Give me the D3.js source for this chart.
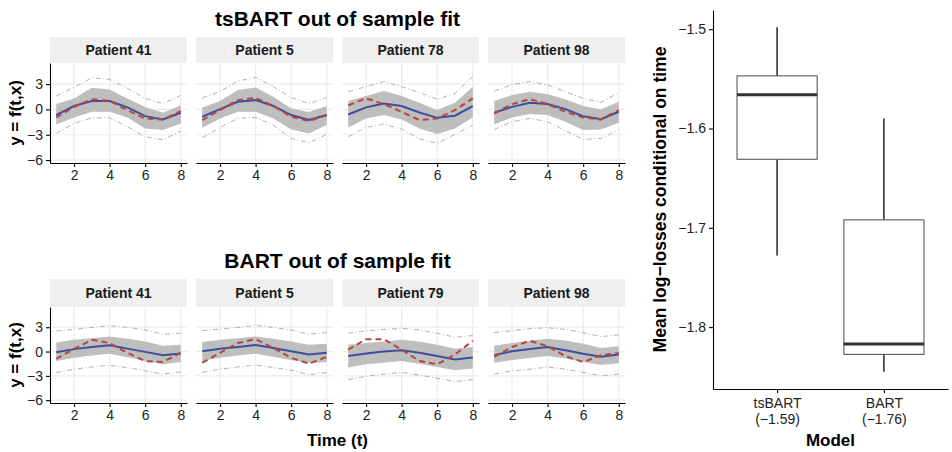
<!DOCTYPE html>
<html>
<head>
<meta charset="utf-8">
<script src="https://cdn.jsdelivr.net/npm/d3@7"></script>
<style>
body { margin: 0; background: #fff; }
svg { display: block; font-family: "Liberation Sans", Arial, Helvetica, sans-serif; }
</style>
</head>
<body>
<div id="chart"></div>
<script>
// Data
var times = [1, 2, 3, 4, 5, 6, 7, 8];
var xTicks = [2, 4, 6, 8];
var yTicks = [-6, -3, 0, 3];
var yLimits = [-6.35, 5.5];

// tsBART out of sample fit
var tsPatients = ["Patient 41", "Patient 5", "Patient 78", "Patient 98"];
var tsFit = [
  [-0.67, 0.4, 1.0, 1.0, 0.24, -0.8, -1.2, -0.4],
  [-0.87, 0.04, 0.9, 1.1, 0.4, -0.67, -1.26, -0.67],
  [-0.6, 0.24, 0.7, 0.4, -0.36, -1.0, -0.75, 0.4],
  [-0.4, 0.3, 0.8, 0.63, 0.04, -0.8, -1.15, -0.28]
];
var tsTruth = [
  [-0.95, 0.3, 1.2, 1.0, -0.1, -1.07, -1.2, -0.2],
  [-1.26, -0.08, 1.1, 1.38, 0.4, -0.87, -1.38, -0.67],
  [0.5, 1.3, 0.63, -0.28, -1.26, -1.07, -0.08, 1.3],
  [-0.47, 0.63, 1.22, 0.63, -0.28, -0.95, -1.2, -0.08]
];
var tsBandLo = [
  [-1.78, -0.95, -0.28, -0.28, -0.95, -2.25, -2.45, -1.66],
  [-2.17, -1.07, -0.28, -0.28, -1.07, -2.37, -2.85, -1.86],
  [-2.13, -1.07, -0.67, -1.2, -2.25, -2.9, -2.25, -0.95],
  [-1.78, -0.95, -0.55, -0.67, -1.46, -2.45, -2.37, -1.58]
];
var tsBandHi = [
  [0.63, 1.3, 2.57, 2.37, 1.3, 0.3, -0.4, 0.5],
  [0.24, 1.0, 2.3, 2.6, 1.5, 0.1, -0.3, 0.4],
  [1.0, 1.6, 2.17, 1.6, 0.8, -0.08, 0.8, 2.7],
  [1.0, 1.7, 2.1, 1.8, 1.2, 0.4, 0.0, 0.9]
];
var tsPredLo = [
  [-2.85, -1.66, -1.0, -1.0, -2.05, -3.24, -3.6, -2.57],
  [-3.36, -2.13, -1.07, -0.95, -1.86, -3.44, -3.95, -2.96],
  [-3.24, -2.13, -1.74, -2.33, -3.5, -4.0, -2.96, -1.86],
  [-2.37, -1.46, -1.07, -1.46, -2.53, -3.56, -3.44, -2.45]
];
var tsPredHi = [
  [1.6, 2.6, 3.75, 3.55, 2.5, 1.3, 0.7, 1.66],
  [1.38, 2.1, 3.36, 3.8, 2.7, 1.38, 0.7, 1.4],
  [2.1, 2.7, 3.3, 2.7, 2.0, 1.2, 1.9, 3.9],
  [2.17, 2.96, 3.3, 2.9, 2.1, 1.3, 0.83, 2.0]
];

// BART out of sample fit
var bartPatients = ["Patient 41", "Patient 5", "Patient 79", "Patient 98"];
var bartFit = [
  [-0.08, 0.3, 0.56, 0.77, 0.36, -0.04, -0.44, -0.24],
  [0.04, 0.36, 0.56, 0.8, 0.44, 0.04, -0.36, -0.16],
  [-0.56, -0.24, 0.0, 0.16, -0.16, -0.56, -0.97, -0.73],
  [-0.44, 0.04, 0.32, 0.56, 0.16, -0.28, -0.65, -0.36]
];
var bartTruth = [
  [-0.89, 0.32, 1.45, 1.05, -0.16, -1.17, -1.29, -0.16],
  [-1.37, -0.16, 1.05, 1.53, 0.44, -0.77, -1.49, -0.65],
  [0.24, 1.53, 1.53, 0.24, -1.17, -1.57, -0.36, 1.33],
  [-0.65, 0.56, 1.33, 0.65, -0.56, -1.29, -0.45, -0.2]
];
var bartBandLo = [
  [-1.17, -0.77, -0.48, -0.28, -0.69, -1.17, -1.57, -1.29],
  [-1.17, -0.77, -0.48, -0.28, -0.65, -1.05, -1.45, -1.29],
  [-1.98, -1.57, -1.37, -1.17, -1.49, -1.9, -2.3, -2.1],
  [-1.37, -1.05, -0.8, -0.56, -0.85, -1.29, -1.65, -1.45]
];
var bartBandHi = [
  [1.13, 1.45, 1.65, 1.85, 1.57, 1.25, 0.73, 0.85],
  [1.17, 1.45, 1.65, 1.85, 1.57, 1.25, 0.85, 0.97],
  [0.85, 1.05, 1.25, 1.45, 1.25, 0.85, 0.36, 0.56],
  [0.73, 1.05, 1.33, 1.57, 1.37, 0.97, 0.44, 0.65]
];
var bartPredLo = [
  [-2.58, -2.18, -1.9, -1.69, -1.98, -2.38, -2.78, -2.5],
  [-2.58, -2.18, -1.9, -1.65, -1.98, -2.3, -2.86, -2.58],
  [-3.47, -3.06, -2.78, -2.58, -2.9, -3.3, -3.7, -3.47],
  [-2.78, -2.38, -2.18, -1.9, -2.18, -2.58, -2.98, -2.78]
];
var bartPredHi = [
  [2.54, 2.74, 2.98, 3.19, 2.98, 2.66, 2.14, 2.26],
  [2.58, 2.78, 2.98, 3.23, 2.98, 2.66, 2.14, 2.34],
  [2.26, 2.54, 2.74, 2.86, 2.66, 2.26, 1.77, 1.98],
  [2.34, 2.58, 2.82, 2.94, 2.74, 2.34, 1.85, 2.06]
];

// Boxplot of mean log-losses
var models = ["tsBART", "BART"];
var modelMeans = ["-1.59", "-1.76"];
var boxMin = [-1.728, -1.845];
var boxQ1 = [-1.631, -1.8275];
var boxMedian = [-1.566, -1.817];
var boxQ3 = [-1.547, -1.692];
var boxMax = [-1.498, -1.590];
var boxTicks = [-1.8, -1.7, -1.6, -1.5];

// Namespace
var fig = fig || {};

fig.minus = function(v) {
  return String(v).replace("-", "\u2212");
};

fig.styleAxis = function(g) {
  g.selectAll(".domain").attr("stroke", "#000").attr("stroke-width", 1.1);
  g.selectAll(".tick line").attr("stroke", "#000").attr("stroke-width", 1.1);
  g.selectAll(".tick text").attr("fill", "#222").style("font-size", "14px")
      .style("font-family", "'Liberation Sans', Arial, sans-serif");
};

// one row of facets (strip + panel for every patient)
fig.drawFacetRow = function(svg, row) {
  var panelW = 137, gap = 9, left = 50;

  svg.append("text").attr("x", left + (4 * panelW + 3 * gap) / 2)
      .attr("y", row.titleY).attr("text-anchor", "middle")
      .style("font-size", "21px").style("font-weight", "bold").text(row.title);

  row.patients.forEach(function(name, i) {
    var g = svg.append("g").attr("transform",
        "translate(" + (left + i * (panelW + gap)) + "," + row.top + ")");

    g.append("rect").attr("width", panelW).attr("height", row.stripH)
        .attr("fill", "#efefef");
    g.append("text").attr("x", panelW / 2).attr("y", row.stripH / 2 + 5)
        .attr("text-anchor", "middle").style("font-size", "14px")
        .style("font-weight", "bold").attr("fill", "#1a1a1a").text(name);

    var p = g.append("g").attr("transform", "translate(0," + row.stripH + ")");
    var x = d3.scaleLinear().domain([0.65, 8.35]).range([0, panelW]);
    var y = d3.scaleLinear().domain(yLimits).range([row.plotH, 0]);

    // grid
    p.selectAll(".vgrid").data(xTicks).enter().append("line")
        .attr("x1", x).attr("x2", x).attr("y1", 0).attr("y2", row.plotH)
        .attr("stroke", "#ebebeb").attr("stroke-width", 1.2);
    p.selectAll(".hgrid").data(yTicks).enter().append("line")
        .attr("x1", 0).attr("x2", panelW).attr("y1", y).attr("y2", y)
        .attr("stroke", "#ebebeb").attr("stroke-width", 1.2);

    var pts = times.map(function(t, k) {
      return {
        t : t,
        fit : row.fit[i][k],
        truth : row.truth[i][k],
        lo : row.bandLo[i][k],
        hi : row.bandHi[i][k],
        plo : row.predLo[i][k],
        phi : row.predHi[i][k]
      };
    });

    var area = d3.area().x(function(d) { return x(d.t); })
        .y0(function(d) { return y(d.lo); }).y1(function(d) { return y(d.hi); });
    p.append("path").datum(pts).attr("d", area).attr("fill", "#bebebe");

    var line = function(key) {
      return d3.line().x(function(d) { return x(d.t); })
          .y(function(d) { return y(d[key]); });
    };

    // prediction interval (dot-dash)
    var predKeys = ["plo", "phi"];
    predKeys.forEach(function(key) {
      p.append("path").datum(pts).attr("d", line(key)).attr("fill", "none")
          .attr("stroke", "#a8a8a8").attr("stroke-width", 0.9)
          .attr("stroke-dasharray", "5,2.5,1,2.5");
    });

    p.append("path").datum(pts).attr("d", line("fit")).attr("fill", "none")
        .attr("stroke", "#3d4f9b").attr("stroke-width", 2);

    p.append("path").datum(pts).attr("d", line("truth")).attr("fill", "none")
        .attr("stroke", "#b5473c").attr("stroke-width", 2)
        .attr("stroke-dasharray", "6,4");

    // axes
    var ax = p.append("g").attr("transform", "translate(0," + row.plotH + ")")
        .call(d3.axisBottom(x).tickValues(xTicks).tickSize(4).tickSizeOuter(0)
            .tickPadding(3));
    fig.styleAxis(ax);

    if (i === 0) {
      var ay = p.append("g").call(d3.axisLeft(y).tickValues(yTicks).tickSize(4)
          .tickSizeOuter(0).tickPadding(3).tickFormat(fig.minus));
      fig.styleAxis(ay);

      p.append("text").attr("transform",
          "translate(-29," + (row.plotH / 2) + ") rotate(-90)")
          .attr("text-anchor", "middle").style("font-size", "17px")
          .style("font-weight", "bold").text("y = f(t,x)");
    }
  });
};

fig.drawBoxplot = function(svg) {
  var left = 713, top = 10, w = 235, h = 379;
  var g = svg.append("g").attr("transform", "translate(" + left + "," + top + ")");

  var lo = d3.min(boxMin), hi = d3.max(boxMax), pad = (hi - lo) * 0.05;
  var x = d3.scalePoint().domain(models).range([0, w]).padding(0.6);
  var y = d3.scaleLinear().domain([lo - pad, hi + pad]).range([h, 0]);
  var bw = x.step() * 0.75;

  var boxes = models.map(function(m, i) {
    return { model : m, min : boxMin[i], q1 : boxQ1[i], med : boxMedian[i],
      q3 : boxQ3[i], max : boxMax[i] };
  });

  var b = g.selectAll(".box").data(boxes).enter().append("g")
      .attr("transform", function(d) { return "translate(" + x(d.model) + ",0)"; });

  b.append("line").attr("y1", function(d) { return y(d.max); })
      .attr("y2", function(d) { return y(d.q3); })
      .attr("stroke", "#333").attr("stroke-width", 1.6);
  b.append("line").attr("y1", function(d) { return y(d.q1); })
      .attr("y2", function(d) { return y(d.min); })
      .attr("stroke", "#333").attr("stroke-width", 1.6);
  b.append("rect").attr("x", -bw / 2).attr("width", bw)
      .attr("y", function(d) { return y(d.q3); })
      .attr("height", function(d) { return y(d.q1) - y(d.q3); })
      .attr("fill", "#fff").attr("stroke", "#595959").attr("stroke-width", 1.1);
  b.append("line").attr("x1", -bw / 2).attr("x2", bw / 2)
      .attr("y1", function(d) { return y(d.med); })
      .attr("y2", function(d) { return y(d.med); })
      .attr("stroke", "#333").attr("stroke-width", 3);

  var ax = g.append("g").attr("transform", "translate(0," + h + ")")
      .call(d3.axisBottom(x).tickSize(4).tickSizeOuter(0).tickFormat(""));
  fig.styleAxis(ax);
  ax.selectAll(".tick text").each(function(d, i) {
    var t = d3.select(this).attr("y", null).attr("dy", null);
    t.append("tspan").attr("x", 0).attr("y", 19).text(d);
    t.append("tspan").attr("x", 0).attr("y", 35)
        .text("(" + fig.minus(modelMeans[i]) + ")");
  });

  var ay = g.append("g").call(d3.axisLeft(y).tickValues(boxTicks).tickSize(4)
      .tickSizeOuter(0).tickPadding(3).tickFormat(function(v) {
        return fig.minus(d3.format(".1f")(v));
      }));
  fig.styleAxis(ay);

  g.append("text").attr("x", w / 2).attr("y", 446 - top)
      .attr("text-anchor", "middle").style("font-size", "17px")
      .style("font-weight", "bold").text("Model");

  g.append("text").attr("transform",
      "translate(-47," + (h / 2) + ") rotate(-90)")
      .attr("text-anchor", "middle").style("font-size", "17.5px")
      .style("font-weight", "bold").text("Mean log\u2212losses conditional on time");
};

fig.init = function() {
  var svg = d3.select("#chart").append("svg").attr("width", 952)
      .attr("height", 452);

  fig.drawFacetRow(svg, {
    title : "tsBART out of sample fit", titleY : 26,
    top : 37, stripH : 26, plotH : 100,
    patients : tsPatients, fit : tsFit, truth : tsTruth,
    bandLo : tsBandLo, bandHi : tsBandHi, predLo : tsPredLo, predHi : tsPredHi
  });

  fig.drawFacetRow(svg, {
    title : "BART out of sample fit", titleY : 268,
    top : 279, stripH : 28, plotH : 96,
    patients : bartPatients, fit : bartFit, truth : bartTruth,
    bandLo : bartBandLo, bandHi : bartBandHi, predLo : bartPredLo,
    predHi : bartPredHi
  });

  svg.append("text").attr("x", 337.5).attr("y", 446).attr("text-anchor", "middle")
      .style("font-size", "17px").style("font-weight", "bold").text("Time (t)");

  fig.drawBoxplot(svg);
};

fig.init();
</script>
</body>
</html>
